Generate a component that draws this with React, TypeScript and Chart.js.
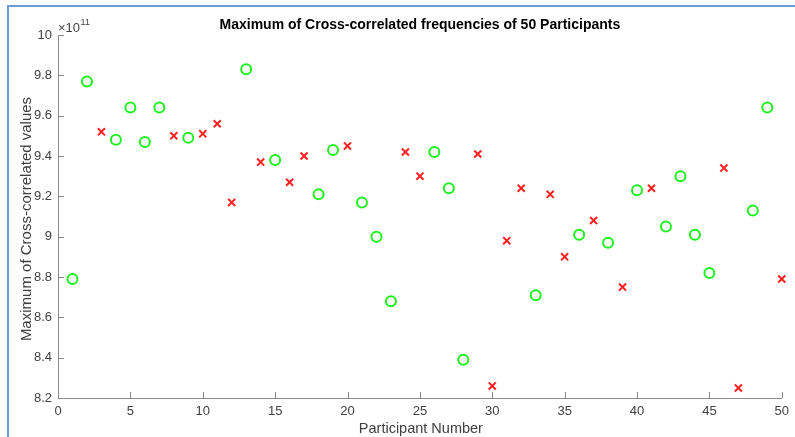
import React, { useEffect, useRef } from "react";
import { Chart, registerables } from "chart.js";

Chart.register(...registerables);

// Values in units of 10^11
const circleParticipants = [1, 2, 4, 5, 6, 7, 9, 13, 15, 18, 19, 21, 22, 23, 26, 27, 28, 33, 36, 38, 40, 42, 43, 44, 45, 48, 49];
const circleValues = [8.79, 9.77, 9.48, 9.64, 9.47, 9.64, 9.49, 9.83, 9.38, 9.21, 9.43, 9.17, 9.0, 8.68, 9.42, 9.24, 8.39, 8.71, 9.01, 8.97, 9.23, 9.05, 9.3, 9.01, 8.82, 9.13, 9.64];

const crossParticipants = [3, 8, 10, 11, 12, 14, 16, 17, 20, 24, 25, 29, 30, 31, 32, 34, 35, 37, 39, 41, 46, 47, 50];
const crossValues = [9.52, 9.5, 9.51, 9.56, 9.17, 9.37, 9.27, 9.4, 9.45, 9.42, 9.3, 9.41, 8.26, 8.98, 9.24, 9.21, 8.9, 9.08, 8.75, 9.24, 9.34, 8.25, 8.79];

const xTickValues = [0, 5, 10, 15, 20, 25, 30, 35, 40, 45, 50];
const yTickValues = [8.2, 8.4, 8.6, 8.8, 9.0, 9.2, 9.4, 9.6, 9.8, 10];

const titleText = "Maximum of Cross-correlated frequencies of 50 Participants";
const xLabel = "Participant Number";
const yLabel = "Maximum of Cross-correlated values";
const exponentText = "11";

const FONT = "'Liberation Sans', Arial, Helvetica, sans-serif";
const TEXT_COLOR = "#404040";
const AXIS_COLOR = "#8a8a8a";

const decorPlugin = {
  id: "decor",
  beforeDraw(chart: any) {
    const ctx = chart.ctx;
    ctx.save();
    ctx.fillStyle = "#ffffff";
    ctx.fillRect(0, 0, chart.width, chart.height);
    ctx.fillStyle = "#6d9bd6";
    ctx.fillRect(7, 5, chart.width - 7, 2);
    ctx.fillRect(7, 5, 2, chart.height - 5);
    ctx.restore();
  },
  afterDraw(chart: any) {
    const ctx = chart.ctx;
    const area = chart.chartArea;
    const xs = chart.scales.x;
    const ys = chart.scales.y;
    ctx.save();
    // inward ticks
    ctx.strokeStyle = AXIS_COLOR;
    ctx.lineWidth = 1;
    ctx.beginPath();
    xTickValues.forEach((v) => {
      const px = Math.round(xs.getPixelForValue(v)) + 0.5;
      ctx.moveTo(px, area.bottom);
      ctx.lineTo(px, area.bottom - 6);
    });
    yTickValues.forEach((v) => {
      const py = Math.round(ys.getPixelForValue(v)) + 0.5;
      ctx.moveTo(area.left, py);
      ctx.lineTo(area.left + 6, py);
    });
    ctx.stroke();

    // title
    const cx = (area.left + area.right) / 2;
    ctx.fillStyle = "#000000";
    ctx.font = `bold 14px ${FONT}`;
    ctx.textAlign = "center";
    ctx.textBaseline = "alphabetic";
    ctx.fillText(titleText, cx, 28.5);

    // x label
    ctx.fillStyle = TEXT_COLOR;
    ctx.font = `14.5px ${FONT}`;
    ctx.textBaseline = "middle";
    ctx.fillText(xLabel, cx + 1, 429);

    // y label
    ctx.save();
    ctx.font = `15px ${FONT}`;
    ctx.translate(27, 219);
    ctx.rotate(-Math.PI / 2);
    ctx.fillText(yLabel, 0, 0);
    ctx.restore();

    // exponent
    ctx.textAlign = "left";
    ctx.textBaseline = "alphabetic";
    ctx.font = `13px ${FONT}`;
    ctx.fillText("\u00d710", area.left, 31.5);
    const w = ctx.measureText("\u00d710").width;
    ctx.font = `9px ${FONT}`;
    ctx.fillText(exponentText, area.left + w + 0.5, 24.5);
    ctx.restore();
  },
};

export default function App() {
  const canvasRef = useRef<HTMLCanvasElement | null>(null);

  useEffect(() => {
    const canvas = canvasRef.current;
    if (!canvas) return;
    const chart = new Chart(canvas, {
      type: "scatter",
      data: {
        datasets: [
          {
            label: "circles",
            data: circleParticipants.map((p, i) => ({ x: p, y: circleValues[i] })),
            pointStyle: "circle",
            radius: 5,
            borderWidth: 2,
            borderColor: "#1ff01f",
            backgroundColor: "rgba(0,0,0,0)",
          },
          {
            label: "crosses",
            data: crossParticipants.map((p, i) => ({ x: p, y: crossValues[i] })),
            pointStyle: "crossRot",
            radius: 5,
            borderWidth: 2,
            borderColor: "#ff2020",
            backgroundColor: "#ff2020",
          },
        ],
      },
      options: {
        animation: false,
        responsive: false,
        devicePixelRatio: 1,
        clip: false as any,
        layout: { autoPadding: false, padding: { top: 35, right: 13, left: 0, bottom: 0 } },
        plugins: { legend: { display: false }, tooltip: { enabled: false }, title: { display: false } },
        events: [],
        scales: {
          x: {
            type: "linear",
            min: 0,
            max: 50,
            afterFit: (s: any) => {
              s.height = 39;
            },
            afterBuildTicks: (s: any) => {
              s.ticks = xTickValues.map((v) => ({ value: v }));
            },
            grid: { display: false, drawTicks: false },
            border: { display: true, color: AXIS_COLOR, width: 1 },
            ticks: {
              padding: 6,
              color: TEXT_COLOR,
              font: { family: FONT, size: 13 },
              maxRotation: 0,
              autoSkip: false,
              callback: (v: any) => String(v),
            },
          },
          y: {
            type: "linear",
            min: 8.2,
            max: 10,
            afterFit: (s: any) => {
              s.width = 58;
            },
            afterBuildTicks: (s: any) => {
              s.ticks = yTickValues.map((v) => ({ value: v }));
            },
            grid: { display: false, drawTicks: false },
            border: { display: true, color: AXIS_COLOR, width: 1 },
            ticks: {
              padding: 6,
              color: TEXT_COLOR,
              font: { family: FONT, size: 13 },
              autoSkip: false,
              callback: (v: any) => String(Number(Number(v).toFixed(1))),
            },
          },
        },
      },
      plugins: [decorPlugin],
    } as any);
    return () => chart.destroy();
  }, []);

  return (
    <div style={{ position: "absolute", left: 0, top: 0, width: 795, height: 437 }}>
      <canvas ref={canvasRef} width={795} height={437} style={{ display: "block", width: 795, height: 437 }} />
    </div>
  );
}
